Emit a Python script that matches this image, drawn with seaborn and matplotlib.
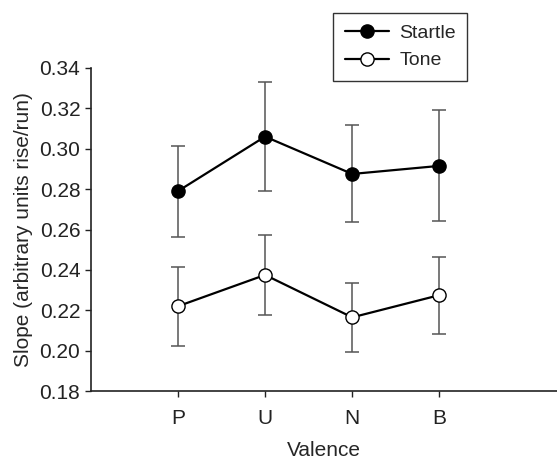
import numpy as np
import pandas as pd
import matplotlib
matplotlib.use("Agg")
import matplotlib.pyplot as plt
import seaborn as sns

# ---------- data ----------
valence = ["P", "U", "N", "B"]
startle_mean = [0.279, 0.306, 0.2875, 0.2915]
startle_err = [0.0225, 0.027, 0.024, 0.0275]
tone_mean = [0.222, 0.2375, 0.2165, 0.2275]
tone_err = [0.0195, 0.020, 0.017, 0.019]

df = pd.DataFrame({
    "Valence": valence * 2,
    "Slope": startle_mean + tone_mean,
    "Err": startle_err + tone_err,
    "Condition": ["Startle"] * 4 + ["Tone"] * 4,
})

sns.set_style("ticks")
plt.rcParams["font.family"] = ["Liberation Sans", "DejaVu Sans"]

fig = plt.figure(figsize=(5.57, 4.59), dpi=100)
ax = fig.add_axes([0.163, 0.148, 0.837, 0.704])

faces = {"Startle": "black", "Tone": "white"}
for cond in ["Startle", "Tone"]:
    sub = df[df["Condition"] == cond]
    # error bars under the markers
    ax.errorbar(range(len(sub)), sub["Slope"], yerr=sub["Err"], fmt="none",
                ecolor="#555555", elinewidth=1.1, capsize=5, capthick=1.1, zorder=1)
    sns.lineplot(data=sub, x="Valence", y="Slope", sort=False, color="black",
                 marker="o", markersize=9.5, markerfacecolor=faces[cond],
                 markeredgecolor="black", markeredgewidth=1.0, linewidth=1.6,
                 label=cond, ax=ax, zorder=3)

ax.set_xlim(-1, 4.35)
ax.set_ylim(0.18, 0.34)
yt = np.arange(0.18, 0.341, 0.02)
ax.set_yticks(yt)
ax.set_yticklabels([f"{v:.2f}" for v in yt])
ax.set_xlabel("Valence", fontsize=15, labelpad=9)
ax.set_ylabel("Slope (arbitrary units rise/run)", fontsize=15, labelpad=5)
ax.tick_params(axis="both", labelsize=15, length=4, width=1.0, colors="#222222")
ax.tick_params(axis="x", pad=9)
sns.despine(ax=ax)
for s in ["left", "bottom"]:
    ax.spines[s].set_linewidth(1.2)
    ax.spines[s].set_color("#222222")

leg = ax.legend(loc="upper left", bbox_to_anchor=(0.598, 0.972),
                bbox_transform=fig.transFigure, borderaxespad=0, fontsize=14,
                frameon=True, fancybox=False, edgecolor="#333333", framealpha=1,
                handlelength=2.3, borderpad=0.6, labelspacing=0.5,
                handletextpad=0.5)
leg.get_frame().set_linewidth(1.0)

fig.savefig("out.png", dpi=100)
